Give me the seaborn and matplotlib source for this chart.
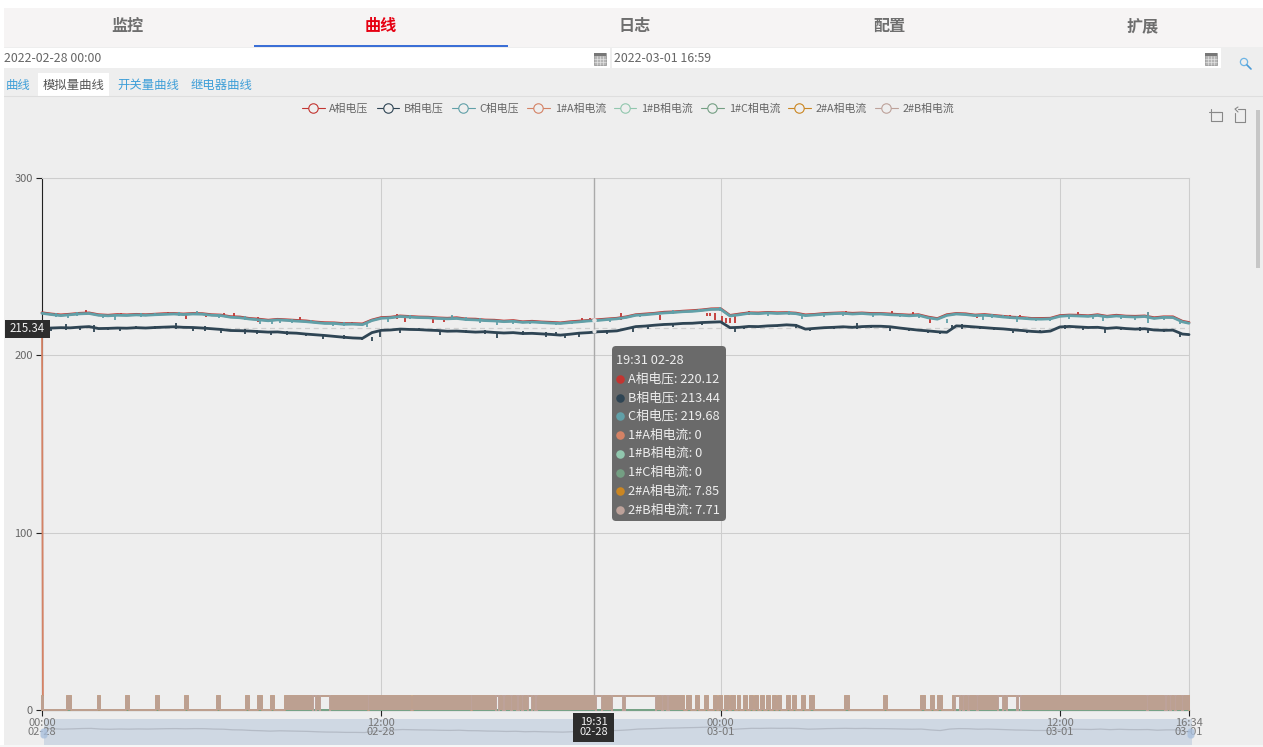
import numpy as np
import pandas as pd
import matplotlib
matplotlib.use("Agg")
import matplotlib.pyplot as plt
from matplotlib.lines import Line2D
from matplotlib.patches import Rectangle, FancyBboxPatch, Circle
import seaborn as sns

# ---------- data ----------
SERIES = ["A相电压", "B相电压", "C相电压", "1#A相电流", "1#B相电流", "1#C相电流", "2#A相电流", "2#B相电流"]
COLORS = ["#c23531", "#2f4554", "#61a0a8", "#d48265", "#91c7ae", "#749f83", "#ca8622", "#bda29a"]
TOOLTIP_TIME = "19:31 02-28"
TOOLTIP_VALUES = ["220.12", "213.44", "219.68", "0", "0", "0", "7.85", "7.71"]
CROSS_T = 1171
CROSS_Y = 215.34
X_TICKS = [0, 720, 1440, 2160, 2434]
X_LABELS = ["00:00\n02-28", "12:00\n02-28", "00:00\n03-01", "12:00\n03-01", "16:34\n03-01"]
Y_TICKS = [0, 100, 200, 300]

T_MIN = list(range(0, 2440, 20)) + [2434]
C_V = [223.7,223.0,222.4,222.9,223.4,223.6,222.6,222.3,222.6,222.5,222.8,222.6,222.9,223.1,223.3,223.0,223.3,223.2,222.6,222.4,
       221.5,221.2,220.5,220.0,219.5,220.0,219.7,219.3,219.0,218.5,218.0,218.0,217.5,217.6,217.3,219.6,220.9,221.2,221.9,221.6,
       221.3,221.2,220.8,220.6,220.8,220.2,220.0,219.6,219.4,219.0,219.2,218.6,218.8,218.5,218.2,218.0,218.5,218.9,219.4,219.7,
       220.2,220.6,221.4,222.6,222.9,223.4,223.9,224.2,224.6,224.8,225.3,225.9,226.0,222.2,222.9,223.7,223.5,223.9,223.6,223.8,
       223.5,222.4,222.8,223.2,223.5,223.7,223.3,223.6,223.2,223.3,222.9,222.7,222.3,222.6,221.2,220.4,222.5,223.3,223.0,222.4,
       222.6,222.2,221.6,221.2,220.9,220.5,220.4,220.6,222.0,222.4,222.2,222.0,222.5,221.7,222.2,221.8,221.6,221.9,220.8,221.4,
       221.3,218.9,218.1]
B_V = [215.2,215.4,215.6,215.5,215.9,216.2,215.1,215.2,215.4,215.3,215.6,215.4,215.7,215.9,216.1,215.8,215.7,215.4,215.0,214.6,
       214.0,213.9,213.7,213.4,213.1,213.2,212.7,212.5,212.0,211.6,211.2,210.7,210.2,209.8,209.6,212.8,214.1,214.3,214.8,214.6,
       214.5,214.2,214.0,213.6,213.7,213.4,213.1,213.3,212.9,212.6,212.8,212.3,212.4,212.1,211.8,211.4,211.9,212.5,212.8,213.3,
       213.5,213.8,215.0,216.2,216.5,217.0,217.4,217.6,218.0,218.1,218.5,218.7,218.9,215.6,215.8,216.3,216.2,216.6,216.8,217.2,
       216.9,214.8,215.2,215.6,215.8,216.1,215.8,216.2,216.4,216.4,216.1,215.4,214.8,214.2,213.8,213.3,213.0,216.6,216.4,216.0,
       215.6,215.2,214.9,214.4,214.0,213.5,213.2,213.7,216.0,216.3,216.0,215.7,215.8,215.2,215.6,215.1,214.8,215.0,214.3,214.1,
       214.2,212.0,211.7]
A_V = [224.0,223.3,222.8,223.2,223.7,223.9,222.9,222.6,223.0,222.8,223.1,222.9,223.2,223.5,223.6,223.3,223.6,223.5,222.9,222.7,
       221.8,221.6,220.8,220.4,219.8,220.3,220.0,219.7,219.4,218.8,218.4,218.3,217.9,217.9,217.7,219.9,221.3,221.5,222.2,221.9,
       221.6,221.5,221.1,220.9,221.2,220.5,220.4,219.9,219.8,219.3,219.6,218.9,219.2,218.8,218.6,218.3,218.9,219.3,219.7,220.1,
       220.5,220.9,221.7,222.9,223.3,223.7,224.3,224.5,224.9,225.2,225.6,226.2,226.3,222.5,223.3,224.0,223.9,224.2,224.0,224.1,
       223.8,222.8,223.1,223.6,223.8,224.0,223.7,223.9,223.6,223.6,223.3,223.0,222.7,222.9,221.6,220.7,222.9,223.6,223.4,222.7,
       223.0,222.5,222.0,221.5,221.3,220.8,220.8,220.9,222.4,222.7,222.6,222.3,222.9,222.0,222.6,222.1,222.0,222.2,221.2,221.7,
       221.7,219.2,218.5]

A_SPIKE_T  = [66,93,168,267,306,348,386,407,458,548,658,753,770,830,853,870,1146,1163,1229,1312,1411,1418,1428,1443,1452,1460,1471,1500,1706,1804,1848,1885,1984,2054,2075,2199,2347]
A_SPIKE_LO = [222.6,222.8,222.3,222.8,220.5,221.4,221.5,221.0,218.9,218.9,216.9,220.5,218.8,218.3,218.7,221.0,219.0,219.0,220.0,219.7,222.0,222.0,220.0,219.0,218.0,218.0,218.0,222.5,222.5,222.5,222.0,218.4,221.0,220.5,220.5,222.5,220.5]
A_SPIKE_HI = [224.0,225.4,224.0,224.3,223.0,223.0,223.8,223.8,221.8,221.6,218.6,223.2,221.8,221.5,220.5,222.0,221.0,221.0,223.8,222.5,224.0,224.0,224.0,222.0,221.0,221.0,222.0,225.0,225.2,225.2,224.5,221.0,223.5,222.5,222.5,224.5,224.4]
C_SPIKE_T  = [55,155,328,463,488,618,870,965,1036,1439,1613,1764,1920,1997,2069,2252,2347,
              30,75,130,210,240,290,375,430,505,530,570,640,690,735,780,900,930,1000,1090,1125,1205,1270,1340,1395,
              1540,1585,1660,1700,1820,1860,2015,2040,2090,2110,2140,2180,2230,2290,2320,2380,2415]
C_SPIKE_LO = [221.0,220.0,222.5,217.8,217.8,216.5,221.0,217.0,217.8,225.0,220.5,221.5,218.4,219.7,218.8,219.3,218.2,
              221.6,222.2,221.2,221.8,222.0,222.0,221.3,220.0,218.5,218.2,218.0,216.5,215.8,218.8,220.4,219.2,218.5,217.4,217.3,217.5,218.7,221.4,223.4,224.4,
              222.3,222.6,221.7,222.0,221.5,221.2,221.0,221.0,219.7,219.2,219.2,220.6,220.4,220.3,220.2,219.7,217.5]
C_SPIKE_HI = [223.0,223.0,225.0,220.0,220.0,218.5,222.5,219.0,219.0,227.0,223.0,223.5,220.5,223.0,222.0,222.5,224.4,
              223.6,224.4,223.0,224.0,224.0,224.2,223.2,222.4,220.6,220.4,220.0,218.8,218.0,221.6,222.6,221.4,221.0,219.6,219.0,219.4,220.8,223.4,225.4,226.4,
              224.6,224.8,223.8,224.0,223.4,223.2,223.2,222.9,221.6,221.0,221.0,223.0,222.4,222.6,222.4,222.0,219.5]
B_SPIKE_T  = [51,111,166,284,346,456,487,597,678,717,845,965,1070,1110,1255,1471,1630,1729,1799,1906,1931,1952,2118,2256,2347,
              20,80,140,200,240,320,380,430,520,560,640,700,760,800,900,940,1020,1090,1140,1200,1285,1340,1400,1490,1560,1600,
              1680,1760,1840,1880,1990,2020,2060,2090,2170,2210,2290,2330,2380,2415]
B_SPIKE_LO = [214.5,213.3,214.0,215.0,213.7,211.8,211.2,209.4,208.8,210.3,211.2,209.9,210.3,209.7,213.1,213.1,213.7,215.0,214.0,211.8,215.0,215.0,212.6,212.6,212.8,
              213.9,214.4,214.2,214.6,214.7,213.9,212.7,212.3,211.3,210.7,209.3,208.3,212.7,213.6,212.4,212.0,211.4,211.3,210.6,212.3,214.8,216.2,217.2,214.6,215.7,215.6,
              214.6,215.2,213.6,212.4,214.6,214.4,212.8,212.4,214.9,214.4,214.2,213.8,213.0,210.6]
B_SPIKE_HI = [217.8,216.9,216.0,218.4,216.5,214.5,214.0,212.0,210.5,214.0,214.0,213.0,213.0,211.5,216.0,216.0,215.5,218.2,216.5,214.0,217.0,217.8,214.5,216.0,215.0,
              216.0,216.8,216.2,216.6,216.3,216.0,214.5,214.6,213.6,212.8,211.6,210.3,215.0,215.5,214.3,214.3,213.5,212.9,212.9,214.2,217.0,218.2,219.0,216.6,217.3,217.8,
              216.3,216.9,215.6,214.5,216.7,216.2,214.9,214.2,217.0,216.2,216.2,215.7,215.0,212.6]

CUR_T_ZERO = [0, 2434]
CUR_V_ZERO = [0, 0]
CUR_1A_T = [0, 2, 2434]
CUR_1A_V = [215.34, 0, 0]
CUR_A_TOP = 7.85
CUR_B_TOP = 7.71
BANDS = [(0,3),(52,62),(118,124),(179,185),(241,248),(303,310),(371,377),(433,439),(458,466),(485,492),(516,575),(581,590),
         (611,691),(694,784),(787,910),(912,963),(970,978),(983,995),(997,1008),(1012,1019),(1021,1031),(1040,1046),(1050,1176),
         (1188,1210),(1233,1237),(1303,1316),(1318,1326),(1331,1362),(1369,1377),(1388,1395),(1406,1413),(1425,1432),(1437,1444),
         (1450,1457),(1463,1470),(1476,1482),(1489,1496),(1502,1508),(1513,1520),(1525,1532),(1539,1545),(1551,1557),(1562,1569),
         (1581,1588),(1593,1600),(1612,1619),(1630,1639),(1705,1713),(1786,1793),(1866,1873),(1886,1893),(1902,1910),(1933,1938),
         (1948,1955),(1957,1965),(1967,1985),(1987,2029),(2040,2048),(2068,2072),(2078,2345),(2347,2383),(2388,2394),(2396,2405),
         (2407,2419),(2421,2434)]
HOLDS = [(575,581),(590,611),(963,970),(978,983),(995,997),(1008,1012),(1019,1021),(1031,1040),(1046,1050),(1176,1188),
         (1210,1233),(1237,1303),(1316,1318),(1326,1331),(1938,1948),(1955,1957),(1965,1967),(1985,1987),(2029,2040),(2048,2068),
         (2072,2078),(2345,2347),(2383,2388),(2394,2396),(2405,2407),(2419,2421)]

# ---------- theme ----------
sns.set_theme(style="white")
plt.rcParams["font.family"] = ["Noto Sans CJK SC", "DejaVu Sans"]
plt.rcParams["axes.unicode_minus"] = False

W, H = 1263, 747
fig = plt.figure(figsize=(W / 100, H / 100), dpi=100, facecolor="#eeeeee")
PX = 0.72  # points per pixel


def px_axes(x0, y0, x1, y1, **kw):
    return fig.add_axes([x0 / W, 1 - y1 / H, (x1 - x0) / W, (y1 - y0) / H], **kw)


def overlay(z):
    a = px_axes(0, 0, W, H, zorder=z)
    a.set_xlim(0, W)
    a.set_ylim(H, 0)
    a.axis("off")
    return a


ui = overlay(0)
ui.add_patch(Rectangle((0, 0), W, 8, color="#ffffff", lw=0))
ui.add_patch(Rectangle((0, 0), 4, H, color="#ffffff", lw=0))
ui.add_patch(Rectangle((4, 8), W, 39, color="#f6f4f4", lw=0))
ui.add_patch(Rectangle((0, 745), W, 2, color="#f6f6f6", lw=0))
ui.add_patch(Rectangle((254, 45), 254, 2, color="#3b6fd6", lw=0))
for cx, s, c in [(127, "监控", "#6e6e6e"), (381, "曲线", "#e60012"), (635, "日志", "#6e6e6e"),
                 (889, "配置", "#6e6e6e"), (1143, "扩展", "#6e6e6e")]:
    ui.text(cx, 26, s, color=c, fontsize=11.6, fontweight="bold", ha="center", va="center")
# date inputs
ui.add_patch(Rectangle((4, 48), 606, 20, color="#ffffff", lw=0))
ui.add_patch(Rectangle((612, 48), 609, 20, color="#ffffff", lw=0))
ui.text(4, 58, "2022-02-28 00:00", color="#666666", fontsize=8.9, va="center")
ui.text(614, 58, "2022-03-01 16:59", color="#666666", fontsize=8.9, va="center")
for x0 in (594, 1205):
    ui.add_patch(Rectangle((x0, 53), 12, 12, facecolor="#b5b5b5", edgecolor="#999999", lw=0.6))
    ui.add_patch(Rectangle((x0, 53), 12, 3, color="#777777", lw=0))
    for d in (3, 6, 9):
        ui.plot([x0 + d, x0 + d], [56, 65], color="#eeeeee", lw=0.4)
    for d in (59, 62):
        ui.plot([x0, x0 + 12], [d, d], color="#eeeeee", lw=0.4)
# search icon
ui.add_patch(Circle((1244, 62), 3.6, fill=False, edgecolor="#6db4e4", lw=0.9))
ui.plot([1247, 1251], [65, 69], color="#4a9ad6", lw=1.2)
# tabs
ui.plot([4, W], [96, 96], color="#dedede", lw=0.8)
ui.add_patch(Rectangle((38, 73), 71, 23, color="#ffffff", lw=0))
for x0, s, c in [(6, "曲线", "#3f9fd8"), (43, "模拟量曲线", "#555555"), (117, "开关量曲线", "#3f9fd8"),
                 (191, "继电器曲线", "#3f9fd8")]:
    ui.text(x0, 85, s, color=c, fontsize=8.9, va="center")
# toolbox icons
for xs, ys in [([1211, 1211, 1222, 1222, 1213], [109, 121, 121, 112, 112]),
               ([1209, 1220], [112, 112])]:
    ui.plot(xs, ys, color="#888888", lw=0.8)
ui.plot([1235, 1235, 1245, 1245, 1238], [113, 122, 122, 109, 109], color="#888888", lw=0.8)
ui.plot([1238, 1235, 1238], [107, 109, 112], color="#888888", lw=0.8)
# scrollbar
ui.add_patch(Rectangle((1256, 110), 4, 158, color="#c6c6c6", lw=0))
# data zoom slider background
ui.add_patch(Rectangle((44, 719), 1148, 26, color="#cfd8e3", lw=0))

# ---------- slider shadow ----------
mini = px_axes(44, 719, 1192, 745, zorder=1)
mini.patch.set_alpha(0)
sns.lineplot(x=T_MIN, y=A_V, ax=mini, color="#b4bbc6", lw=0.9, legend=False, estimator=None)
mini.set_xlim(0, 2434)
mini.set_ylim(199, 238)
mini.axis("off")

# ---------- main chart ----------
ax = px_axes(42, 178, 1189, 710, zorder=2)
ax.patch.set_alpha(0)
ax.set_xlim(0, 2434)
ax.set_ylim(0, 300)
ax.grid(True, color="#cdcdcd", lw=0.75)
ax.set_axisbelow(True)

spans = sorted(BANDS + HOLDS)
path_t, path_a, path_b = [], [], []
for s, e in spans:
    path_t += [s, s, e, e]
    path_a += [0, CUR_A_TOP, CUR_A_TOP, 0]
    path_b += [0, CUR_B_TOP, CUR_B_TOP, 0]

frames = [
    ("A相电压", T_MIN, A_V),
    ("B相电压", T_MIN, B_V),
    ("C相电压", T_MIN, C_V),
    ("1#A相电流", CUR_1A_T, CUR_1A_V),
    ("1#B相电流", CUR_T_ZERO, CUR_V_ZERO),
    ("1#C相电流", CUR_T_ZERO, CUR_V_ZERO),
    ("2#A相电流", path_t, path_a),
    ("2#B相电流", path_t, path_b),
]
spike_sets = {"A相电压": (A_SPIKE_T, A_SPIKE_LO, A_SPIKE_HI),
              "B相电压": (B_SPIKE_T, B_SPIKE_LO, B_SPIKE_HI),
              "C相电压": (C_SPIKE_T, C_SPIKE_LO, C_SPIKE_HI)}
for i, (name, t, v) in enumerate(frames):
    df = pd.DataFrame({"t": t, "v": v})
    lw = 2.8 * PX if i < 3 else 1.8 * PX
    sns.lineplot(data=df, x="t", y="v", ax=ax, color=COLORS[i], lw=lw, legend=False,
                 estimator=None, sort=False, zorder=3 + i * 0.1, clip_on=False)
    if name in spike_sets:
        st, lo, hi = spike_sets[name]
        ax.vlines(st, lo, hi, color=COLORS[i], lw=1.8 * PX, zorder=3 + i * 0.1)
for s, e in BANDS:
    ax.fill_between([s, e], 0, [CUR_B_TOP, CUR_B_TOP], color="#bca091", lw=0, zorder=3.8)

# crosshair
ax.axvline(CROSS_T, color="#aaaaaa", lw=1.0, zorder=2.6)
ax.axhline(CROSS_Y, color="#cfcfcf", lw=0.9, ls=(0, (4, 3)), zorder=2.4)
ax.scatter([CROSS_T] * 3, [220.12, 213.44, 219.68], s=9, color="#e4e4e4", zorder=5, lw=0)

ax.set_xticks(X_TICKS)
ax.set_xticklabels(X_LABELS, fontsize=8.0, color="#777777", linespacing=0.85)
ax.set_yticks(Y_TICKS)
ax.set_yticklabels([str(v) for v in Y_TICKS], fontsize=8.0, color="#666666")
ax.tick_params(axis="both", length=4.3, width=0.8, color="#222222", pad=2.5, left=True, bottom=True)
ax.tick_params(axis="x", pad=1.5)
ax.set_xlabel("")
ax.set_ylabel("")
for k in ("top", "right"):
    ax.spines[k].set_color("#cdcdcd")
    ax.spines[k].set_linewidth(0.75)
ax.spines["left"].set_color("#222222")
ax.spines["bottom"].set_color("#222222")
for k in ("left", "bottom"):
    ax.spines[k].set_linewidth(0.8)
    ax.spines[k].set_zorder(2.5)

handles = [Line2D([0], [0], color=c, lw=0.8, marker="o", mfc="#eeeeee", mec=c, mew=0.8, ms=6.8, label=s)
           for s, c in zip(SERIES, COLORS)]
ax.legend(handles=handles, ncol=8, frameon=False, loc="center", bbox_to_anchor=(628 / W, 1 - 109 / H),
          bbox_transform=fig.transFigure, fontsize=7.8, labelcolor="#666666", handlelength=2.1,
          handletextpad=0.45, columnspacing=0.73, borderpad=0, borderaxespad=0)

# ---------- overlays ----------
ov = overlay(5)
ov.add_patch(Rectangle((5, 320), 45, 18, color="#2d2d2d", lw=0))
ov.text(27.5, 329, f"{CROSS_Y:.2f}", color="#f0f0f0", fontsize=8.3, ha="center", va="center")
ov.add_patch(Rectangle((573, 713), 41, 29, color="#2d2d2d", lw=0))
ov.text(593.5, 727, "19:31\n02-28", color="#f0f0f0", fontsize=8.0, ha="center", va="center", linespacing=0.95)
ov.add_patch(FancyBboxPatch((615, 349), 108, 169, boxstyle="round,pad=3,rounding_size=4",
                            facecolor="#6a6a6a", lw=0))
ov.text(616, 360, TOOLTIP_TIME, color="#eeeeee", fontsize=9.2, va="center")
for i, (s, val, c) in enumerate(zip(SERIES, TOOLTIP_VALUES, COLORS)):
    y = 379 + i * 18.7
    ov.scatter([620], [y], s=38, color=c, lw=0)
    ov.text(628, y, f"{s}: {val}", color="#eeeeee", fontsize=9.2, va="center")
# slider handles
for hx in (44, 1191):
    ov.add_patch(FancyBboxPatch((hx - 2, 730), 4, 7, boxstyle="round,pad=1.5,rounding_size=3",
                                facecolor="#a9bfdc", edgecolor="none", alpha=0.8))

fig.savefig("out.png", dpi=100, facecolor=fig.get_facecolor())
